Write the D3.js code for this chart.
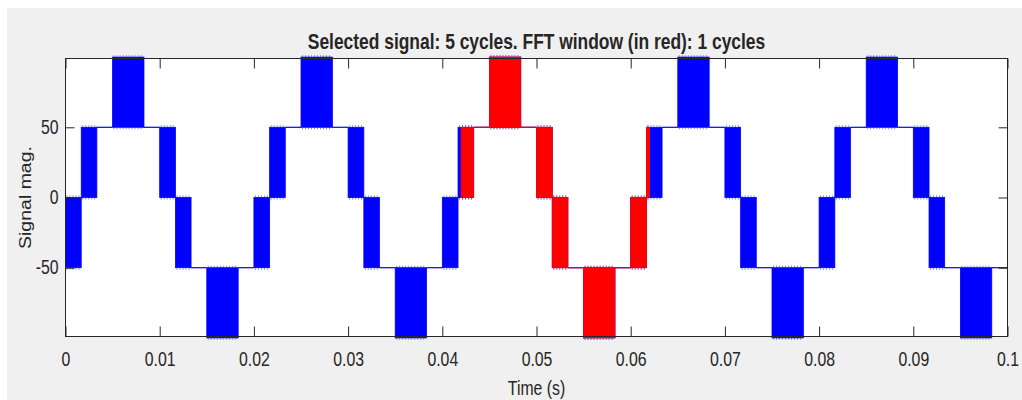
<!DOCTYPE html>
<html>
<head>
<meta charset="utf-8">
<script src="https://cdn.jsdelivr.net/npm/d3@7"></script>
<style>
  body { margin: 0; background: #fff; }
  text { font-family: "Liberation Sans", Arial, Helvetica, sans-serif; fill: #262626; }
</style>
</head>
<body>
<div id="chart"></div>
<script>
// Data: one cycle of the staircase PWM signal (switching bands between levels),
// repeated at each cycle start
const cycleStarts = [0, 0.02, 0.04, 0.06, 0.08];
const segStart = [0, 0.00167, 0.00333, 0.005, 0.00833, 0.01, 0.01167, 0.01333, 0.015, 0.01833];
const segEnd   = [0.00167, 0.00333, 0.005, 0.00833, 0.01, 0.01167, 0.01333, 0.015, 0.01833, 0.02];
const segLow   = [-50, 0, 50, 50, 50, 0, -50, -50, -100, -50];
const segHigh  = [0, 50, 50, 100, 50, 50, 0, -50, -50, -50];
const fftWindow = [0.042, 0.062];

const xTicks = [0, 0.01, 0.02, 0.03, 0.04, 0.05, 0.06, 0.07, 0.08, 0.09, 0.1];
const yTicks = [-50, 0, 50];
const titleText = "Selected signal: 5 cycles. FFT window (in red): 1 cycles";
const xLabel = "Time (s)";
const yLabel = "Signal mag.";

const width = 1022;
const height = 400;
const squish = 0.81; // text in the reference is horizontally condensed

// build segment list
const segments = [];
cycleStarts.forEach(c => {
    segStart.forEach((s, i) => {
        segments.push({ t0: c + s, t1: c + segEnd[i], lo: segLow[i], hi: segHigh[i] });
    });
});
// part of the signal inside the FFT window
const redSegments = segments
    .filter(d => d.t1 > fftWindow[0] && d.t0 < fftWindow[1])
    .map(d => ({ t0: Math.max(d.t0, fftWindow[0]), t1: Math.min(d.t1, fftWindow[1]), lo: d.lo, hi: d.hi }));

const svg = d3.select("#chart")
    .append("svg")
    .attr("width", width)
    .attr("height", height);

// figure background
svg.append("rect")
    .attr("x", 7).attr("y", 8)
    .attr("width", width - 7).attr("height", height - 8)
    .attr("fill", "#f0f0f0");

// Scales
const x = d3.scaleLinear().domain([0, 0.1]).range([65.5, 1007.5]);
const y = d3.scaleLinear().domain([-99, 99]).range([336.5, 58.5]);

// axes background
svg.append("rect")
    .attr("x", x(0)).attr("y", y(99))
    .attr("width", x(0.1) - x(0)).attr("height", y(-99) - y(99))
    .attr("fill", "#fff");

function drawSignal(data, color) {
    const g = svg.append("g");
    const bands = data.filter(d => d.hi !== d.lo);
    const flats = data.filter(d => d.hi === d.lo);

    g.selectAll("line.flat")
        .data(flats)
        .join("line")
        .attr("class", "flat")
        .attr("x1", d => x(d.t0)).attr("x2", d => x(d.t1))
        .attr("y1", d => y(d.lo)).attr("y2", d => y(d.lo))
        .attr("stroke", color)
        .attr("stroke-width", 1.2);

    g.selectAll("rect.band")
        .data(bands)
        .join("rect")
        .attr("class", "band")
        .attr("x", d => x(d.t0))
        .attr("y", d => y(d.hi))
        .attr("width", d => x(d.t1) - x(d.t0))
        .attr("height", d => y(d.lo) - y(d.hi))
        .attr("fill", color)
        .attr("stroke", color)
        .attr("stroke-width", 0.8);

    // dotted fringe of the fast switching at band edges
    g.selectAll("line.fringeTop")
        .data(bands)
        .join("line")
        .attr("class", "fringeTop")
        .attr("x1", d => x(d.t0) + 1).attr("x2", d => x(d.t1) - 1)
        .attr("y1", d => y(d.hi) - 1.2).attr("y2", d => y(d.hi) - 1.2)
        .attr("stroke", color)
        .attr("stroke-width", 1.5)
        .attr("stroke-dasharray", "1 2")
        .attr("opacity", 0.5);

    g.selectAll("line.fringeBottom")
        .data(bands)
        .join("line")
        .attr("class", "fringeBottom")
        .attr("x1", d => x(d.t0) + 1).attr("x2", d => x(d.t1) - 1)
        .attr("y1", d => y(d.lo) + 1.2).attr("y2", d => y(d.lo) + 1.2)
        .attr("stroke", color)
        .attr("stroke-width", 1.5)
        .attr("stroke-dasharray", "1 2")
        .attr("opacity", 0.5);
}

drawSignal(segments, "#0000ff");
drawSignal(redSegments, "#ff0000");

// Axes (ticks point inward, box on all four sides)
const axisColor = "#262626";
function styleAxis(g) {
    g.select(".domain").remove();
    g.selectAll(".tick line").attr("stroke", axisColor);
    g.selectAll(".tick text")
        .attr("fill", "#333")
        .style("font-size", "19.5px");
}

svg.append("g")
    .attr("transform", `translate(0,${y(-99)})`)
    .call(d3.axisBottom(x).tickValues(xTicks).tickFormat(d => String(d)).tickSizeInner(-10).tickSizeOuter(0).tickPadding(16))
    .call(styleAxis)
    .call(g => g.selectAll(".tick text").attr("transform", `scale(${squish},1)`));

svg.append("g")
    .attr("transform", `translate(0,${y(99)})`)
    .call(d3.axisTop(x).tickValues(xTicks).tickFormat("").tickSizeInner(-10).tickSizeOuter(0))
    .call(styleAxis);

svg.append("g")
    .attr("transform", `translate(${x(0)},0)`)
    .call(d3.axisLeft(y).tickValues(yTicks).tickFormat(d => String(d)).tickSizeInner(-9).tickSizeOuter(0))
    .call(styleAxis)
    .call(g => g.selectAll(".tick text")
        .attr("x", 0)
        .attr("transform", `translate(-7,0) scale(${squish},1)`));

svg.append("g")
    .attr("transform", `translate(${x(0.1)},0)`)
    .call(d3.axisRight(y).tickValues(yTicks).tickFormat("").tickSizeInner(-9).tickSizeOuter(0))
    .call(styleAxis);

// box
svg.append("rect")
    .attr("x", x(0)).attr("y", y(99))
    .attr("width", x(0.1) - x(0)).attr("height", y(-99) - y(99))
    .attr("fill", "none")
    .attr("stroke", axisColor)
    .attr("stroke-width", 1);

// Title and axis labels
const midX = (x(0) + x(0.1)) / 2;
svg.append("text")
    .attr("transform", `translate(${midX},49) scale(${squish},1)`)
    .attr("text-anchor", "middle")
    .style("font-size", "21.5px")
    .style("font-weight", "bold")
    .attr("fill", "#000")
    .text(titleText);

svg.append("text")
    .attr("transform", `translate(${midX},395) scale(${squish},1)`)
    .attr("text-anchor", "middle")
    .style("font-size", "19.5px")
    .text(xLabel);

svg.append("text")
    .attr("transform", `translate(31,${(y(99) + y(-99)) / 2}) scale(${squish},1) rotate(-90)`)
    .attr("text-anchor", "middle")
    .style("font-size", "19.5px")
    .text(yLabel);
</script>
</body>
</html>
